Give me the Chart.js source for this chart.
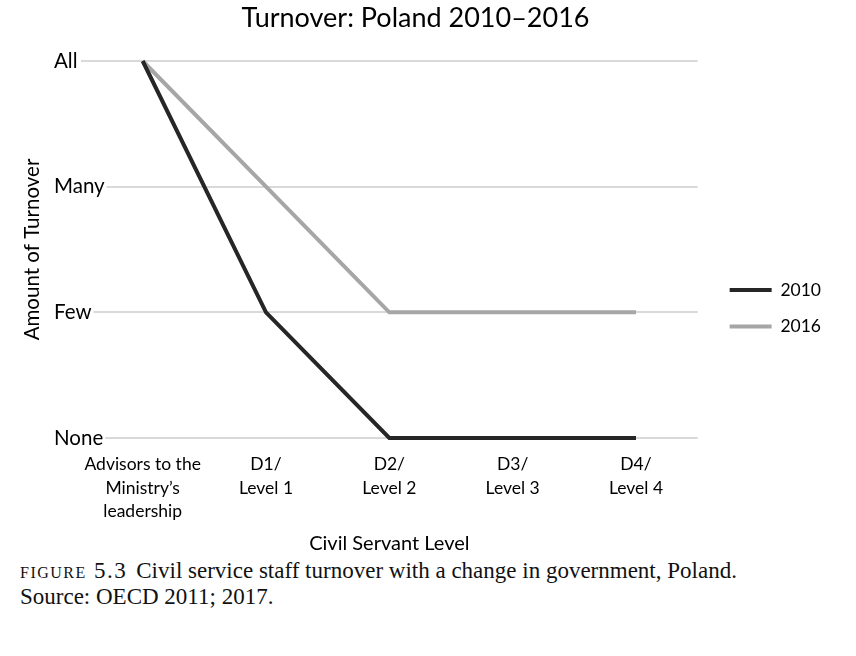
<!DOCTYPE html>
<html>
<head>
<meta charset="utf-8">
<script src="https://cdn.jsdelivr.net/npm/chart.js@4"></script>
<style>
  body { margin: 0; background: #fff; }
  #wrap { width: 856px; height: 556px; position: relative; }
  .caption {
    font-family: 'Liberation Serif', 'DejaVu Serif', serif;
    font-size: 23px;
    line-height: 26px;
    color: #111;
    margin: 2px 0 0 20px;
  }
  .caption .sc { font-variant: small-caps; text-transform: lowercase; letter-spacing: 1.5px; margin-right: 9px; }
</style>
</head>
<body>
<div id="wrap"><canvas id="turnoverChart"></canvas></div>
<div class="caption">
  <div><span class="sc">FIGURE 5.3</span>Civil service staff turnover with a change in government, Poland.</div>
  <div>Source: OECD 2011; 2017.</div>
</div>
<script>
const categories = [
  ['Advisors to the', 'Ministry\u2019s', 'leadership'],
  ['D1/', 'Level 1'],
  ['D2/', 'Level 2'],
  ['D3/', 'Level 3'],
  ['D4/', 'Level 4'],
];
const levelLabels = ['None', 'Few', 'Many', 'All'];
const turnover2010 = [3, 1, 0, 0, 0];
const turnover2016 = [3, 2, 1, 1, 1];

const fontFamily = "Lato, 'Open Sans', sans-serif";

function turnoverChart() {
  const config = {
    type: 'line',
    data: {
      labels: categories,
      datasets: [
        {
          label: '2010',
          data: turnover2010,
          borderColor: '#262626',
          backgroundColor: '#262626',
          borderWidth: 4,
          pointRadius: 0,
          tension: 0,
          clip: false,
        },
        {
          label: '2016',
          data: turnover2016,
          borderColor: '#a6a6a6',
          backgroundColor: '#a6a6a6',
          borderWidth: 4,
          pointRadius: 0,
          tension: 0,
          clip: false,
        },
      ],
    },
    options: {
      responsive: false,
      animation: false,
      layout: { padding: { right: 25 } },
      plugins: {
        title: {
          display: true,
          text: 'Turnover: Poland 2010\u20132016',
          color: '#000',
          font: { family: fontFamily, size: 27, weight: 'normal' },
          padding: { top: 2, bottom: 26.6 },
        },
        legend: {
          position: 'right',
          // empty title only pushes the two entries down a little
          title: { display: true, text: '', font: { size: 10 }, padding: { top: 0, bottom: 48.5 } },
          labels: {
            usePointStyle: true,
            pointStyle: 'line',
            pointStyleWidth: 42,
            padding: 19,
            color: '#000',
            font: { family: fontFamily, size: 17.5 },
          },
        },
        tooltip: { enabled: false },
      },
      scales: {
        x: {
          offset: true,
          grid: { display: false, drawTicks: false },
          border: { display: false },
          ticks: {
            color: '#000',
            maxRotation: 0,
            autoSkip: false,
            padding: 15,
            font: { family: fontFamily, size: 17.5, lineHeight: 1.34 },
          },
          title: {
            display: true,
            text: 'Civil Servant Level',
            color: '#000',
            font: { family: fontFamily, size: 20 },
            padding: { top: 0, bottom: 0 },
          },
          afterFit: (scale) => { scale.height = 118; },
        },
        y: {
          min: 0,
          max: 3,
          grid: { color: '#d9d9d9', lineWidth: 2, drawTicks: false },
          border: { display: false },
          ticks: {
            stepSize: 1,
            color: '#000',
            mirror: true,
            crossAlign: 'near',
            padding: -27,
            showLabelBackdrop: true,
            backdropColor: '#fff',
            backdropPadding: 2,
            font: { family: fontFamily, size: 20.5 },
            callback: (value) => levelLabels[value],
          },
          title: {
            display: true,
            text: 'Amount of Turnover',
            color: '#000',
            font: { family: fontFamily, size: 20.5 },
            padding: { top: 20, bottom: 0 },
          },
          afterFit: (scale) => { scale.width = 81; },
        },
        gap: {
          position: 'right',
          grid: { display: false },
          border: { display: false },
          ticks: { display: false },
          afterFit: (scale) => { scale.width = 13; },
        },
      },
    },
  };
  const ctx = document.getElementById('turnoverChart');
  ctx.width = 856;
  ctx.height = 556;

  return new Chart(ctx, config);
}

turnoverChart();
</script>
</body>
</html>
